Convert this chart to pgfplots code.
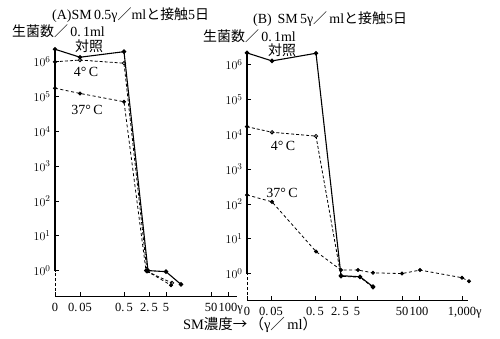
\documentclass[border=0pt]{standalone}
\usepackage{fontspec}
\setmainfont{Liberation Serif}
\newfontfamily\cjk{Noto Sans CJK JP}
\usepackage{pgfplots}
\pgfplotsset{compat=1.18}
\tikzset{
  ctrl/.style={black, line width=1.1pt, mark=*, mark size=1.7pt},
  four/.style={black, line width=0.8pt, dash pattern=on 3pt off 2pt, mark=o, mark size=1.7pt, mark options={solid, fill=white}},
  hot/.style={black, line width=0.8pt, dash pattern=on 3pt off 2.5pt, mark=*, mark size=1.6pt, mark options={solid}},
  lab/.style={inner sep=0pt, font=\fontsize{14}{14}\selectfont},
}
\begin{document}
\begin{tikzpicture}
\path[use as bounding box] (0bp,0bp) rectangle (500bp,339bp);

% ---------------- Panel A ----------------
\begin{axis}[scale only axis, clip=false, anchor=south west,
  at={(55bp,43bp)}, width=182bp, height=249.9bp,
  ymode=log, 
  xmin=0, xmax=182, ymin=0.186, ymax=2.82e6,
  axis x line=bottom, axis y line=left,
  x axis line style={line width=0.9pt, -},
  y axis line style={draw=none, -},
  tick align=inside, major tick length=4bp,
  tick style={black, line width=0.7pt},
  yminorticks=false, xminorticks=false,
  ytick={1,10,100,1000,10000,100000,1000000},
  yticklabels={$10^{0}$,$10^{1}$,$10^{2}$,$10^{3}$,$10^{4}$,$10^{5}$,$10^{6}$},
  y tick label style={font=\fontsize{12.5}{12.5}\selectfont, xshift=-1bp},
  x tick label style={font=\fontsize{12.5}{12.5}\selectfont, yshift=-3.5bp},
  xtick={0,25,69,94,111,156,173},
  xticklabels={0,0.\,05,0.\,5,2.\,5,5,50,100\rlap{γ}}]
\draw[line width=1.1pt] (axis cs:0,1) -- (axis cs:0,2.29e6);
\draw[line width=0.8pt, dash pattern=on 3pt off 2pt] (axis cs:0,0.186) -- (axis cs:0,1);
\addplot[ctrl] coordinates {(0,2.29e6) (25,1.35e6) (69,1.95e6) (93,1.0) (111,0.93) (126,0.40)};
\addplot[four] coordinates {(0,1.0e6) (25,1.12e6) (69,9.1e5) (92,0.95) (117,0.44)};
\addplot[hot] coordinates {(0,1.74e5) (25,1.23e5) (69,7.1e4) (91,1.0) (116,0.38)};
\end{axis}

% ---------------- Panel B ----------------
\begin{axis}[scale only axis, clip=false, anchor=south west,
  at={(247bp,39bp)}, width=221bp, height=250.9bp,
  ymode=log,
  xmin=0, xmax=221, ymin=0.174, ymax=2.82e6,
  axis x line=bottom, axis y line=left,
  x axis line style={line width=0.9pt, -},
  y axis line style={draw=none, -},
  tick align=inside, major tick length=4bp,
  tick style={black, line width=0.7pt},
  yminorticks=false, xminorticks=false,
  ytick={1,10,100,1000,10000,100000,1000000},
  yticklabels={$10^{0}$,$10^{1}$,$10^{2}$,$10^{3}$,$10^{4}$,$10^{5}$,$10^{6}$},
  y tick label style={font=\fontsize{12.5}{12.5}\selectfont, xshift=-1bp},
  x tick label style={font=\fontsize{12.5}{12.5}\selectfont, yshift=-3.5bp},
  xtick={0,24,68,93,110,155,172,215},
  xticklabels={0,0.\,05,0.\,5,2.\,5,5,50,100,{1,000\rlap{γ}}}]
\draw[line width=1.1pt] (axis cs:0,1) -- (axis cs:0,2.19e6);
\draw[line width=0.8pt, dash pattern=on 3pt off 2pt] (axis cs:0,0.174) -- (axis cs:0,1);
\addplot[ctrl] coordinates {(0,2.19e6) (25,1.29e6) (69,2.14e6) (94,0.87) (113,0.81) (126,0.42)};
\addplot[four] coordinates {(0,1.66e4) (25,1.15e4) (69,8.9e3) (94,0.83) (113,0.79) (126,0.40)};
\addplot[hot] coordinates {(0,182) (25,115) (69,4.3) (94,1.26) (111,1.26) (126,1.05) (155,1.0) (173,1.26) (215,0.76) (222,0.60)};
\end{axis}

% ---------------- Texts ----------------
\node[lab, anchor=west] at (52bp,324bp) {(A)SM\,0.5γ{\cjk ／}ml{\cjk と接触}5{\cjk 日}};
\node[lab, anchor=west] at (253bp,320bp) {(B)\, SM\,5γ{\cjk ／}\,ml{\cjk と接触}5{\cjk 日}};
\node[lab, anchor=west] at (12bp,308bp) {{\cjk 生菌数／}\,0.\,1ml};
\node[lab, anchor=west] at (203bp,303bp) {{\cjk 生菌数／}\,0.\,1ml};
\node[lab] at (89bp,293bp) {\cjk 対照};
\node[lab] at (86bp,267bp) {4°\,C};
\node[lab] at (87bp,229bp) {37°\,C};
\node[lab] at (282bp,289bp) {\cjk 対照};
\node[lab] at (283bp,193bp) {4°\,C};
\node[lab] at (282bp,146bp) {37°\,C};
\node[lab, font=\fontsize{14.5}{14.5}\selectfont] at (250bp,14bp) {SM{\cjk 濃度→\,（}γ{\cjk ／}\,ml{\cjk ）}};
\end{tikzpicture}
\end{document}
